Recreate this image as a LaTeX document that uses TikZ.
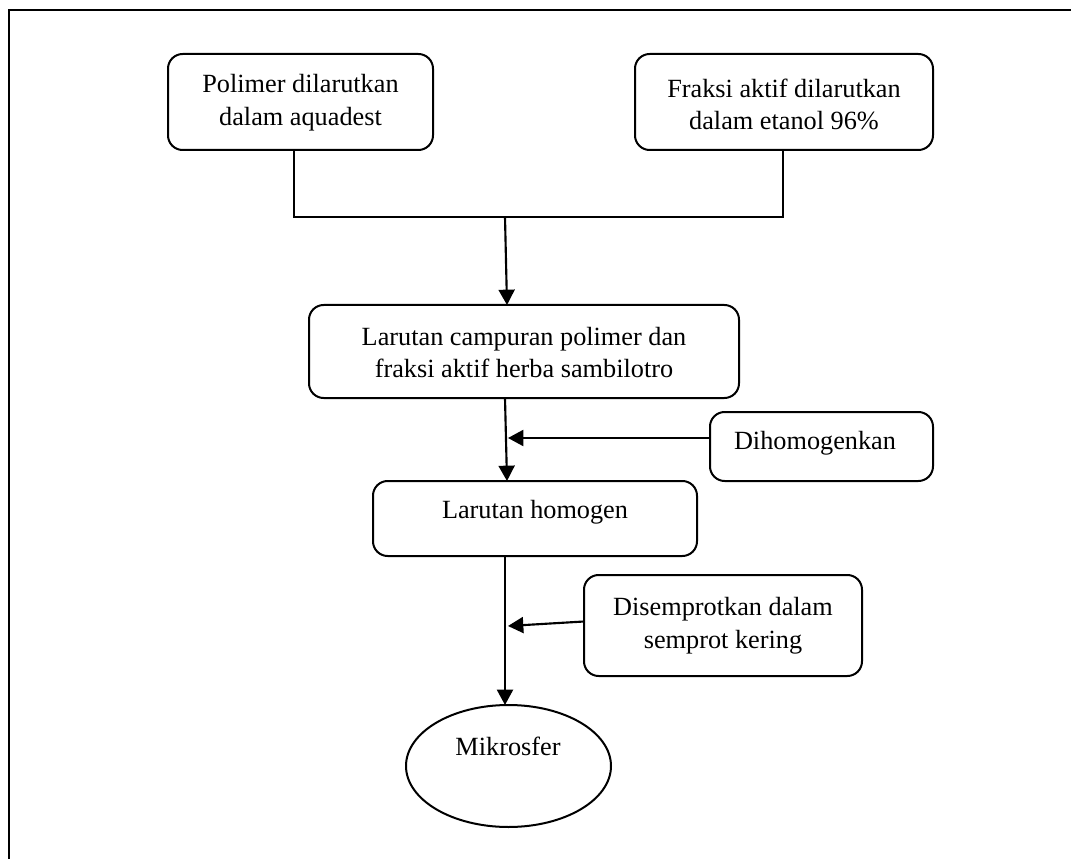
\documentclass[tikz,border=0pt]{standalone}
\usepackage{fontspec}
\setmainfont{Liberation Serif}
\usetikzlibrary{arrows.meta,shapes.geometric}
\tikzset{
  box/.style={draw, rounded corners=11pt, line width=1.5pt, inner sep=0pt, outer sep=0pt},
  oval/.style={draw, ellipse, line width=1.5pt, inner sep=0pt, outer sep=0pt},
  txt/.style={font=\fontsize{19.7pt}{24.6pt}\selectfont, align=center, inner sep=0pt, anchor=base},
  conn/.style={line width=1.6pt},
  arr/.style={line width=1.6pt, -{Triangle[length=11.5pt,width=12pt]}},
  frame/.style={line width=1.5pt}
}
\begin{document}
\begin{tikzpicture}[x={(0.75pt,0)}, y={(0,-0.75pt)}]
\useasboundingbox (0,0) rectangle (1071,859);
\fill[white] (0,0) rectangle (1071,859);
% outer frame (only top and left edges fall within the picture)
\draw[frame] (8.5,870) -- (8.5,10.5) -- (1080,10.5);

% boxes
\node[box, minimum width=198.75pt, minimum height=72pt] (b1) at (300.5,102) {};
\node[box, minimum width=223.5pt, minimum height=72pt] (b2) at (784,102) {};
\node[box, minimum width=322.5pt, minimum height=69.75pt] (b3) at (524,351.5) {};
\node[box, minimum width=167.25pt, minimum height=51.75pt] (bd) at (821.5,446.5) {};
\node[box, minimum width=243pt, minimum height=56.25pt] (b4) at (535,518.5) {};
\node[box, minimum width=208.5pt, minimum height=75.75pt] (bs) at (723,625.5) {};
\node[oval, minimum width=153.75pt, minimum height=91.5pt] (el) at (508.5,766) {};

% texts (base = baseline of the last line)
\node[txt] (t1) at (300.5,125.5) {Polimer dilarutkan\\dalam aquadest};
\node[txt] (t2) at (784,130) {Fraksi aktif dilarutkan\\dalam etanol 96\%};
\node[txt] (t3) at (524,378) {Larutan campuran polimer dan\\fraksi aktif herba sambilotro};
\node[txt] (td) at (815,449) {Dihomogenkan};
\node[txt] (t4) at (535,518) {Larutan homogen};
\node[txt] (ts) at (723,648) {Disemprotkan dalam\\semprot kering};
\node[txt] (tm) at (508,755) {Mikrosfer};

% helper coordinates
\coordinate (x1) at (294,0);
\coordinate (x2) at (783,0);
\coordinate (j) at (505,217);
\coordinate (a3) at (507,0);
\coordinate (s3) at (505,0);
\coordinate (jd) at (508,438);
\coordinate (s4) at (505,0);
\coordinate (js) at (508,626);

% connectors
\draw[conn] (b1.south -| x1) |- (j) -| (b2.south -| x2);
\draw[arr] (j) -- (b3.north -| a3);
\draw[arr] (b3.south -| s3) -- (b4.north -| a3);
\draw[arr] (bd.west |- jd) -- (jd);
\draw[arr] (b4.south -| s4) -- (el.north -| s4);
\draw[arr] ([yshift=3pt]bs.west) -- (js);
\end{tikzpicture}
\end{document}
